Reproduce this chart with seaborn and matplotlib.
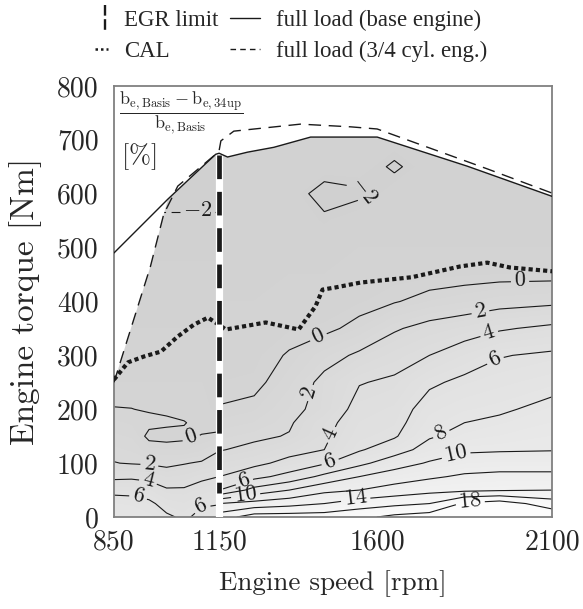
import numpy as np
import matplotlib
matplotlib.use("Agg")
import matplotlib.pyplot as plt
from matplotlib.colors import LinearSegmentedColormap, Normalize
from matplotlib.patches import Polygon
from matplotlib.lines import Line2D
from matplotlib.legend_handler import HandlerBase
import seaborn as sns

# ---- values ----
torque_rows = [0, 25, 50, 75, 100, 125, 150, 175, 200, 250, 300,
               350, 400, 450, 500, 550, 600, 650, 700, 750]

# relative fuel consumption difference [%] below the EGR limit
speed_left = [850, 900, 950, 1000, 1050, 1100, 1150]
diff_left = [
    [7.6, 7.4, 7.2, 6.3, 5.7, 6.5, 7.0],
    [7.0, 6.9, 6.4, 5.3, 5.0, 5.8, 5.9],
    [5.4, 5.3, 5.0, 4.2, 4.2, 4.6, 5.0],
    [3.6, 3.7, 3.5, 2.9, 3.1, 3.7, 4.0],
    [2.05, 1.9, 1.8, 1.6, 1.9, 2.2, 2.8],
    [1.6, 1.4, 0.6, 0.5, 0.4, 0.8, 1.9],
    [1.1, 0.9, -0.3, -0.4, -0.2, 0.05, 0.2],
    [0.6, 0.4, 0.3, 0.2, 0.05, -0.3, -0.4],
    [0.05, 0.02, -0.1, -0.2, -0.3, -0.4, -0.6],
    [-0.5, -0.5, -0.5, -0.5, -0.5, -0.5, -0.5],
    [-0.8, -0.8, -0.8, -0.8, -0.8, -0.8, -0.8],
    [-1.0, -1.0, -1.0, -1.0, -1.0, -1.0, -1.0],
    [-1.2, -1.2, -1.2, -1.2, -1.2, -1.2, -1.2],
    [-1.4, -1.4, -1.4, -1.4, -1.4, -1.4, -1.4],
    [-1.6, -1.6, -1.6, -1.6, -1.6, -1.6, -1.6],
    [-1.85, -1.85, -1.85, -1.85, -1.85, -1.85, -1.85],
    [-2.3, -2.3, -2.3, -2.3, -2.3, -2.3, -2.3],
    [-2.6, -2.6, -2.6, -2.6, -2.6, -2.6, -2.6],
    [-2.8, -2.8, -2.8, -2.8, -2.8, -2.8, -2.8],
    [-3.0, -3.0, -3.0, -3.0, -3.0, -3.0, -3.0],
]

# above the EGR limit
speed_right = [1150, 1250, 1350, 1450, 1550, 1650, 1750, 1850, 1950, 2100]
diff_right = [
    [15, 17, 17, 17, 17.5, 18.5, 19, 20, 20.5, 19.5],
    [12, 12.7, 13.3, 14, 15, 15.5, 16, 18.3, 19, 17],
    [6, 8.7, 10, 11.5, 12, 12.8, 13.4, 13.6, 13.8, 14],
    [4, 5.4, 6.7, 8.5, 10, 11, 11.7, 12.3, 12.5, 12.5],
    [2.9, 3.5, 4.6, 5.8, 7.5, 9.1, 10.2, 10.9, 11.1, 11.1],
    [1.9, 2.4, 3.3, 4.0, 5.8, 7.1, 8.8, 9.7, 9.8, 9.9],
    [1.3, 1.7, 2.1, 3.7, 5.3, 5.8, 7.8, 8.6, 9.0, 9.5],
    [0.6, 1.0, 1.8, 3.4, 5.0, 5.4, 7.2, 8.0, 8.4, 9.0],
    [0.1, 0.4, 1.5, 2.6, 4.7, 5.1, 6.8, 7.4, 7.7, 8.6],
    [-0.5, -0.4, 0.8, 2.5, 3.9, 4.3, 5.7, 6.4, 6.8, 7.3],
    [-0.8, -0.7, 0.15, 1.3, 2.3, 3.2, 4.0, 5.0, 5.9, 6.3],
    [-0.9, -0.9, -0.6, -0.4, 0.5, 1.8, 2.6, 3.1, 3.8, 4.4],
    [-1, -1, -0.9, -0.9, -0.6, -0.1, 0.5, 0.9, 1.3, 1.6],
    [-1, -1, -1, -1, -0.9, -0.8, -0.7, -0.6, -0.5, -0.5],
    [-1, -1, -1, -1, -1, -1, -1, -1, -1, -1],
    [-1, -1, -1, -1.6, -1, -1, -1, -1, -1, -1],
    [-1, -1, -1, -2.8, -2.3, -1, -1, -1, -1, -1],
    [-1, -1, -1, -1, -1, -2.3, -1, -1, -1, -1],
    [-1, -1, -1, -1, -1, -1, -1, -1, -1, -1],
    [-1, -1, -1, -1, -1, -1, -1, -1, -1, -1],
]

# full load curves
fl_speed = [850, 1004, 1140, 1150, 1174, 1231, 1306, 1411, 1601, 1858, 2100]
fl_torque = [490, 590, 673, 675, 668, 677, 686, 705, 705, 651, 595]
fl34_speed = [850, 954, 992, 1032, 1140, 1150, 1155, 1192, 1382, 1525, 1601, 1915, 2100]
fl34_torque = [250, 465, 562, 614, 673, 680, 698, 716, 729, 724, 720, 646, 601]

# CAL line
cal_speed = [850, 890, 936, 984, 1032, 1078, 1118, 1149, 1169, 1283, 1377,
             1425, 1445, 1482, 1553, 1700, 1838, 1915, 1980, 2100]
cal_torque = [255, 287, 298, 307, 335, 357, 370, 357, 348, 361, 348,
              391, 422, 426, 435, 445, 465, 472, 463, 456]

egr_speed = 1150
egr_torque = [672, 44]
egr_band = [682, 0]

left_levels = [-2, 0, 2, 4, 6]
label_levels = [-2, 0, 2, 4, 6, 8, 10, 14, 18]
plain_levels = [12, 16]
xtick_vals = [850, 1150, 1600, 2100]
ytick_vals = [0, 100, 200, 300, 400, 500, 600, 700, 800]
legend_labels = ["EGR limit", "CAL", "full load (base engine)", "full load (3/4 cyl. eng.)"]

# label spots (layout)
lab_left = [(1069, 149), (950, 93), (947, 63), (922, 45), (1098, 19), (1089, 547)]
lab_right = [(1439, 326), (2009, 426), (1411, 230), (1895, 382), (1505, 143),
             (1918, 345), (1468, 100), (1932, 298), (1790, 147), (1826, 115),
             (1539, 35), (1866, 32), (1559, 605), (1226, 58), (1226, 38)]

sns.set_theme(style="white")
plt.rcParams["font.family"] = ["Liberation Serif", "DejaVu Serif"]
plt.rcParams["mathtext.fontset"] = "cm"

fig, ax = plt.subplots(figsize=(5.83, 6.09), dpi=100)
fig.subplots_adjust(left=0.1955, right=0.947, top=0.859, bottom=0.151)

gray = LinearSegmentedColormap.from_list("map_gray", ["#d0d0d0", "#fcfcfc"])
norm = Normalize(-2.5, 19)
fill_levels = np.arange(-4, 22.5, 0.5)

zl = np.array(diff_left)
zr = np.array(diff_right)
cf_l = ax.contourf(speed_left, torque_rows, zl, levels=fill_levels, cmap=gray, norm=norm)
cf_r = ax.contourf(speed_right, torque_rows, zr, levels=fill_levels, cmap=gray, norm=norm)

cl_l = ax.contour(speed_left, torque_rows, zl, levels=left_levels, colors="k", linewidths=0.8,
                  linestyles=[(0, (8, 5)) if lv < 0 else "solid" for lv in left_levels])
cl_r = ax.contour(speed_right, torque_rows, zr, levels=label_levels, colors="k", linewidths=0.8,
                  linestyles="solid")
cl_r2 = ax.contour(speed_right, torque_rows, zr, levels=plain_levels, colors="k", linewidths=0.8,
                   linestyles="solid")

fmt = lambda v: f"${v:.0f}$"
ax.clabel(cl_l, manual=lab_left, fmt=fmt, fontsize=16, inline_spacing=3)
ax.clabel(cl_r, manual=lab_right, fmt=fmt, fontsize=16, inline_spacing=3)

# shaded area: below the lower of the two full load curves
fl34_s = np.array(fl34_speed)
fl_s = np.array(fl_speed)
poly_x = np.concatenate([[850], fl34_s[fl34_s < 1000], fl_s[fl_s >= 1004], [2100]])
poly_y = np.concatenate([[0], np.array(fl34_torque)[fl34_s < 1000],
                         np.array(fl_torque)[fl_s >= 1004], [0]])
clip = Polygon(np.column_stack([poly_x, poly_y]), closed=True, transform=ax.transData)
for art in (cf_l, cf_r, cl_l, cl_r, cl_r2):
    art.set_clip_path(clip)

sns.lineplot(x=fl_speed, y=fl_torque, color="k", lw=1.0, sort=False, estimator=None, ax=ax, zorder=5)
sns.lineplot(x=fl34_speed, y=fl34_torque, color="k", lw=1.0, linestyle=(0, (9, 5.5)),
             sort=False, estimator=None, ax=ax, zorder=5)
sns.lineplot(x=cal_speed, y=cal_torque, color="k", lw=3.0, linestyle=(0, (1, 0.75)),
             sort=False, estimator=None, ax=ax, zorder=3)

ax.plot([egr_speed, egr_speed], egr_band, color="white", lw=5.2, solid_capstyle="butt", zorder=4)
ax.plot([egr_speed, egr_speed], egr_torque, color="k", lw=3.4, linestyle=(0, (5, 2.7)), zorder=4.5)

ax.text(0.012, 0.99, r"$\dfrac{\mathrm{b_{e,Basis}}-\mathrm{b_{e,34up}}}{\mathrm{b_{e,Basis}}}$",
        transform=ax.transAxes, ha="left", va="top", fontsize=13)
ax.text(0.016, 0.835, r"$[\%]$", transform=ax.transAxes, ha="left", va="center", fontsize=19)

ax.set_xlim(850, 2100)
ax.set_ylim(0, 800)
ax.set_xticks(xtick_vals)
ax.set_xticklabels([str(v) for v in xtick_vals], fontsize=20, fontfamily="cmr10")
ax.set_yticks(ytick_vals)
ax.set_yticklabels([str(v) for v in ytick_vals], fontsize=20, fontfamily="cmr10")
ax.tick_params(axis="both", length=0)
ax.tick_params(axis="x", pad=9)
ax.tick_params(axis="y", pad=11)
ax.set_xlabel("Engine speed [rpm]", fontsize=19.5, fontfamily="cmr10", labelpad=10)
ax.set_ylabel("Engine torque [Nm]", fontsize=24, fontfamily="cmr10", labelpad=11)
for sp in ax.spines.values():
    sp.set_color("#808080")
    sp.set_linewidth(1.3)


class StubHandler(HandlerBase):
    def __init__(self, vertical=False, frac=1.0, **line_kw):
        super().__init__()
        self.vertical = vertical
        self.frac = frac
        self.line_kw = line_kw

    def create_artists(self, legend, orig_handle, xdescent, ydescent, width, height, fontsize, trans):
        x1 = width - xdescent
        yc = (height - ydescent) / 2
        if self.vertical:
            xs = [x1 - 2, x1 - 2]
            ys = [yc + 0.8 * height, yc - 0.9 * height]
        else:
            xs = [x1 - self.frac * width, x1]
            ys = [yc, yc]
        return [Line2D(xs, ys, transform=trans, **self.line_kw)]


h_egr = Line2D([], [], color="k")
h_cal = Line2D([], [], color="k")
h_fl = Line2D([], [], color="k")
h_fl34 = Line2D([], [], color="k")
fig.legend([h_egr, h_cal, h_fl, h_fl34], legend_labels, loc="upper center",
           bbox_to_anchor=(0.485, 1.018), ncol=2, frameon=False, fontsize=16.5,
           handlelength=1.3, handletextpad=0.7, columnspacing=0.5, labelspacing=0.45,
           handler_map={
               h_egr: StubHandler(vertical=True, color="k", lw=1.7, linestyle=(0, (4.5, 1.5))),
               h_cal: StubHandler(frac=0.45, color="k", lw=1.8, linestyle=(0, (1, 1.2))),
               h_fl: StubHandler(frac=1.0, color="k", lw=1.0),
               h_fl34: StubHandler(frac=1.0, color="k", lw=1.0, linestyle=(0, (4, 3))),
           })

fig.savefig("out.png", dpi=100)
